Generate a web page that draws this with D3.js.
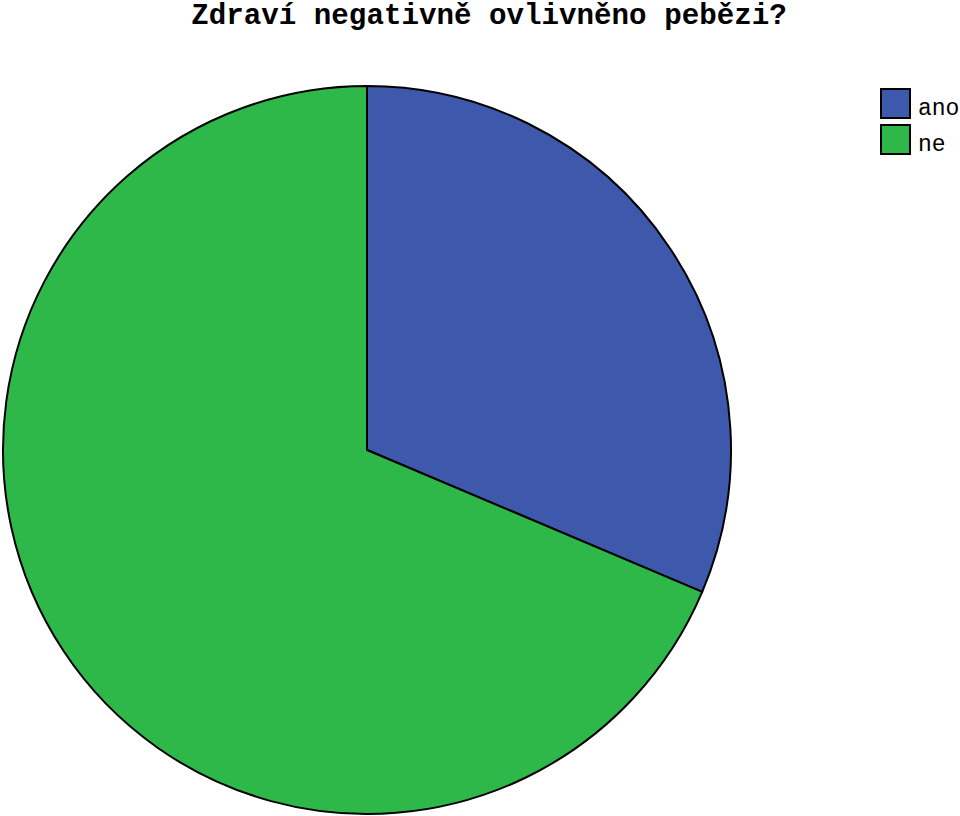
<!DOCTYPE html>
<html>
<head>
<meta charset="utf-8">
<script src="https://cdn.jsdelivr.net/npm/d3@7"></script>
<style>
  body { margin: 0; background: #fff; }
  svg text { font-family: "Liberation Mono", "DejaVu Sans Mono", monospace; }
</style>
</head>
<body>
<div id="container"></div>
<script>
// Data (counts)
const categories = ["ano", "ne"];
const counts = [32, 70];
const colors = ["#3e58ac", "#2fb84a"];
const title = "Zdraví negativně ovlivněno pebězi?";

const width = 960, height = 816;
const cx = 367, cy = 450, radius = 364;

const svg = d3.select("#container").append("svg")
    .attr("width", width)
    .attr("height", height);

// title
svg.append("text")
    .attr("x", 489)
    .attr("y", 24)
    .attr("text-anchor", "middle")
    .attr("font-weight", "bold")
    .attr("font-size", 29.2)
    .text(title);

// pie
const pie = d3.pie().sort(null).value(d => d.value);
const arc = d3.arc().innerRadius(0).outerRadius(radius);
const slices = pie(categories.map((c, i) => ({ name: c, value: counts[i] })));

const g = svg.append("g").attr("transform", `translate(${cx},${cy})`);
g.selectAll("path")
    .data(slices)
    .enter()
    .append("path")
    .attr("d", arc)
    .attr("fill", (d, i) => colors[i])
    .attr("stroke", "#000")
    .attr("stroke-width", 2)
    .attr("stroke-linejoin", "round");

// legend
const legend = svg.append("g").attr("transform", "translate(881,89)");
const item = legend.selectAll("g")
    .data(categories)
    .enter()
    .append("g")
    .attr("transform", (d, i) => `translate(0,${i * 36})`);

item.append("rect")
    .attr("width", 29)
    .attr("height", 29)
    .attr("fill", (d, i) => colors[i])
    .attr("stroke", "#000")
    .attr("stroke-width", 2);

item.append("text")
    .attr("x", 37)
    .attr("y", 26)
    .attr("font-size", 23)
    .text(d => d);
</script>
</body>
</html>
